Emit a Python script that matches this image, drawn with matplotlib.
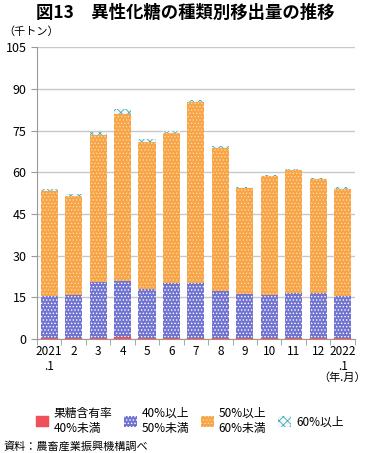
import matplotlib
matplotlib.use('Agg')
import matplotlib.pyplot as plt
import numpy as np

plt.rcParams['font.family'] = ['Noto Sans CJK JP', 'DejaVu Sans']
plt.rcParams['hatch.linewidth'] = 0.6

months = ['2021\n.1', '2', '3', '4', '5', '6', '7', '8', '9', '10', '11', '12', '2022\n.1']
under40 = [0.3, 0.2, 0.4, 0.6, 0.2, 0.2, 0.2, 0.2, 0.2, 0.2, 0.2, 0.3, 0.2]
p40_50 = [15.2, 15.6, 20.1, 20.3, 17.8, 20.0, 20.1, 17.1, 16.0, 15.8, 16.5, 16.2, 15.1]
p50_60 = [37.7, 35.6, 52.8, 60.1, 52.8, 54.0, 65.1, 51.5, 38.1, 42.5, 44.2, 41.1, 38.8]
p60_up = [0.8, 0.7, 1.3, 1.7, 1.2, 0.6, 0.6, 0.6, 0.4, 0.5, 0.4, 0.4, 0.4]

fig = plt.figure(figsize=(3.7, 4.53), dpi=100)
ax = fig.add_axes([0.1, 0.2517, 0.859, 0.6443])

x = np.arange(len(months))
w = 0.7
b1 = np.array(under40)
b2 = b1 + np.array(p40_50)
b3 = b2 + np.array(p50_60)

ax.bar(x, under40, w, color='#f0505a', edgecolor='#f0505a', linewidth=0.3,
       label='果糖含有率\n40%未満', zorder=3)
ax.bar(x, p40_50, w, bottom=b1, color='#7074d0', edgecolor='white', hatch='.....',
       linewidth=0, label='40%以上\n50%未満', zorder=3)
ax.bar(x, p50_60, w, bottom=b2, color='#f8a446', edgecolor='#fcd9a8', hatch='.....',
       linewidth=0, label='50%以上\n60%未満', zorder=3)
ax.bar(x, p60_up, w, bottom=b3, color='#eef8f8', edgecolor='#4aa8b0', hatch='xxxx',
       linewidth=0, label='60%以上', zorder=3)

ax.set_ylim(0, 105)
ax.set_yticks(np.arange(0, 106, 15))
ax.set_xlim(-0.5, len(months) - 0.5)
ax.set_xticks(x)
ax.set_xticklabels(months, fontsize=8.5)
ax.set_xticks(np.arange(-0.5, len(months), 1), minor=True)
ax.tick_params(axis='x', which='major', length=0, pad=4)
ax.tick_params(axis='x', which='minor', length=4, color='#999999')
ax.tick_params(axis='y', labelsize=9, length=4, color='#999999')
ax.grid(axis='y', color='#c8c8c8', linewidth=1, zorder=0)

for s in ['top', 'right']:
    ax.spines[s].set_visible(False)
ax.spines['left'].set_color('#999999')
ax.spines['bottom'].set_color('#999999')

fig.text(0.5, 0.972, '図13　異性化糖の種類別移出量の推移', ha='center', va='center',
         fontsize=12.5, fontweight='bold')
fig.text(0.01, 0.93, '（千トン）', ha='left', va='center', fontsize=8)
fig.text(0.99, 0.167, '（年.月）', ha='right', va='center', fontsize=8)

ax.legend(loc='upper center', bbox_to_anchor=(0.48, -0.195), ncol=4, frameon=False,
          fontsize=8.5, handlelength=1.1, handleheight=1.1, handletextpad=0.4,
          columnspacing=1.0)

fig.text(0.01, 0.014, '資料：農畜産業振興機構調べ', ha='left', va='center', fontsize=8)

plt.savefig('out.png', dpi=100)
